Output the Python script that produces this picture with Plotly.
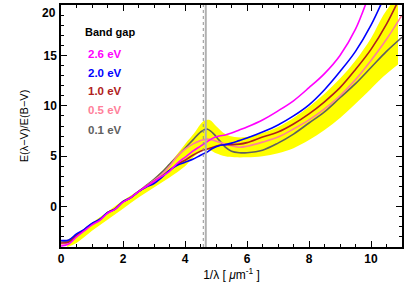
import plotly.graph_objects as go

# shared wavenumber grid (1/lambda, um^-1)
x = [0, 0.25, 0.5, 0.75, 1, 1.25, 1.5, 1.75, 2, 2.25, 2.5, 2.75, 3, 3.25, 3.5, 3.75,
     4, 4.25, 4.5, 4.7, 4.9, 5.1, 5.3, 5.5, 5.75, 6, 6.5, 7, 7.5, 8, 8.5, 9, 9.5, 10, 10.5, 11]

gap_26 = [-3.9, -3.7, -3.0, -2.4, -1.8, -1.35, -0.65, -0.25, 0.45, 0.9, 1.5, 2.0, 2.5, 3.0, 3.5, 4.3,
          4.9, 5.5, 6.0, 6.4, 6.8, 7.0, 7.1, 7.3, 7.6, 7.9, 8.6, 9.5, 10.5, 11.8, 13.2, 15.0, 17.6, 21.5, 25.5, 30]
gap_20 = [-3.35, -3.3, -2.7, -2.25, -1.65, -1.25, -0.6, -0.25, 0.5, 0.9, 1.5, 1.95, 2.3, 2.9, 3.6, 4.1,
          4.4, 4.7, 5.1, 5.4, 5.8, 6.05, 6.15, 6.3, 6.55, 6.8, 7.4, 8.1, 9.0, 10.1, 11.6, 13.4, 15.4, 18.0, 21.3, 25]
gap_10 = [-3.6, -3.5, -2.85, -2.3, -1.7, -1.3, -0.6, -0.2, 0.5, 0.9, 1.5, 2.0, 2.5, 3.0, 3.6, 4.2,
          4.6, 5.1, 5.5, 5.7, 5.9, 6.1, 6.15, 6.15, 6.2, 6.35, 6.9, 7.4, 8.2, 9.2, 10.4, 11.8, 13.6, 15.6, 18.1, 21.2]
gap_05 = [-3.7, -3.6, -2.9, -2.3, -1.7, -1.3, -0.6, -0.2, 0.5, 0.9, 1.5, 2.05, 2.6, 3.2, 4.0, 5.0,
          5.7, 6.2, 6.55, 6.7, 6.6, 6.4, 6.2, 6.05, 5.9, 6.0, 6.4, 6.9, 7.7, 8.6, 9.7, 11.0, 12.6, 14.5, 16.6, 19.0]
gap_01 = [-3.5, -3.4, -2.85, -2.3, -1.7, -1.3, -0.6, -0.2, 0.5, 0.9, 1.5, 2.1, 2.7, 3.4, 4.2, 5.0,
          5.8, 6.6, 7.4, 7.7, 7.3, 6.6, 5.9, 5.5, 5.35, 5.35, 5.6, 6.3, 7.2, 8.3, 9.4, 10.8, 12.2, 13.8, 15.4, 16.8]

# yellow uncertainty band
band_x = [0.2, 0.5, 1, 1.5, 2, 2.5, 3, 3.5, 4, 4.3, 4.6, 4.8, 5.0, 5.3, 5.6, 6, 6.5, 7, 7.5,
          8, 8.5, 9, 9.5, 10, 10.4, 10.87]
band_lo = [-4.0, -3.6, -2.4, -1.3, -0.2, 0.9, 1.9, 2.9, 4.0, 5.0, 5.6, 5.6, 5.3, 5.0, 4.9, 4.9, 5.0,
           5.3, 5.8, 6.6, 7.6, 8.8, 10.2, 11.7, 12.9, 14.1]
band_hi = [-3.3, -2.8, -1.6, -0.5, 0.6, 1.6, 2.8, 4.3, 6.2, 7.3, 8.5, 8.6, 8.0, 7.2, 6.9, 6.9, 7.3,
           7.9, 8.8, 9.9, 11.2, 12.7, 14.5, 16.7, 19.0, 21.0]

bump_center = 4.67
bump_dotted = 4.59

x_ticks = [0, 2, 4, 6, 8, 10]
y_ticks = [0, 5, 10, 15]
y_top_label = "20"

labels = ["2.6 eV", "2.0 eV", "1.0 eV", "0.5 eV", "0.1 eV"]
colors = ["#ff00ff", "#0000ff", "#b02020", "#ff7f9a", "#606060"]
series = [gap_26, gap_20, gap_10, gap_05, gap_01]

FONT = "Liberation Sans, Arial"

fig = go.Figure()
fig.add_trace(go.Scatter(x=band_x, y=band_lo, mode="lines", line=dict(width=0, shape="spline"),
                         showlegend=False, hoverinfo="skip"))
fig.add_trace(go.Scatter(x=band_x, y=band_hi, mode="lines", line=dict(width=0, shape="spline"),
                         fill="tonexty", fillcolor="#ffff00", showlegend=False, hoverinfo="skip"))

for ys, c in reversed(list(zip(series, colors))):
    fig.add_trace(go.Scatter(x=x, y=ys, mode="lines", line=dict(color=c, width=1.6, shape="spline"),
                             showlegend=False))

fig.add_shape(type="line", x0=bump_center, x1=bump_center, y0=0, y1=1, yref="paper",
              line=dict(color="#b0b0b0", width=2))
fig.add_shape(type="line", x0=bump_dotted, x1=bump_dotted, y0=0, y1=1, yref="paper",
              line=dict(color="#909090", width=1, dash="dot"))

fig.add_annotation(x=0.71, y=17.3, text="<b>Band gap</b>", showarrow=False, xanchor="left",
                   font=dict(family=FONT, size=11, color="black"))
ypos = [15.1, 13.3, 11.45, 9.6, 7.6]
for t, c, yy in zip(labels, colors, ypos):
    fig.add_annotation(x=0.81, y=yy, text="<b>" + t + "</b>",
                       showarrow=False, xanchor="left",
                       font=dict(family=FONT, size=11.5, color=c))

# top y tick label (drawn slightly inside the frame, as in the reference)
fig.add_annotation(x=0, xref="paper", xanchor="right", xshift=-3, y=20, yanchor="top", yshift=1,
                   text=y_top_label, showarrow=False,
                   font=dict(family=FONT, size=12, color="black", weight="bold"))

axis_common = dict(showline=True, linecolor="black", linewidth=1.5, mirror="ticks", ticks="inside",
                   tickcolor="black", tickwidth=1.2, ticklen=6, showgrid=False, zeroline=False,
                   tickfont=dict(family=FONT, size=12, color="black", weight="bold"))

fig.update_xaxes(range=[0, 11], tickvals=x_ticks,
                 minor=dict(dtick=0.5, tick0=0, ticks="inside", ticklen=3, tickcolor="black", tickwidth=1),
                 title=dict(text="1/λ [ <i>μ</i>m<sup>-1</sup> ]", standoff=4,
                            font=dict(family=FONT, size=12, color="black")),
                 **axis_common)
fig.update_yaxes(range=[-4, 20], tickvals=y_ticks,
                 minor=dict(dtick=1, tick0=0, ticks="inside", ticklen=3, tickcolor="black", tickwidth=1),
                 title=dict(text="E(λ−V)/E(B−V)", standoff=13,
                            font=dict(family=FONT, size=11, color="black")),
                 **axis_common)

fig.update_layout(width=407, height=291, margin=dict(l=61, r=5, t=3, b=44),
                  plot_bgcolor="white", paper_bgcolor="white", showlegend=False)

fig.write_html("out.html", config={"displayModeBar": False},
               post_script="document.body.style.margin='0';")
